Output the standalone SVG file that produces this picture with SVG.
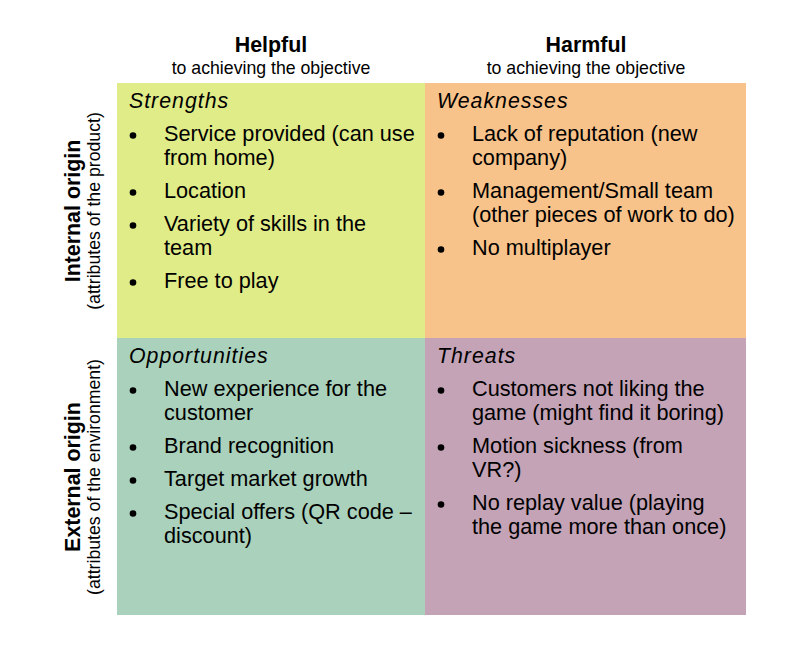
<svg xmlns="http://www.w3.org/2000/svg" width="797" height="659" viewBox="0 0 797 659">
<style>
text{font-family:"Liberation Sans",Arial,sans-serif;fill:#000}
.hd{font-size:21.4px;font-weight:bold;text-anchor:middle}
.sub{font-size:17.7px;text-anchor:middle}
.ttl{font-size:21.3px;font-style:italic;letter-spacing:1px}
.b{font-size:21.7px}
</style>
<rect width="797" height="659" fill="#fff"/>
<g id="header-helpful">
<text class="hd" x="271" y="52">Helpful</text>
<text class="sub" x="271" y="74">to achieving the objective</text>
</g>
<g id="header-harmful">
<text class="hd" x="586" y="52">Harmful</text>
<text class="sub" x="586" y="74">to achieving the objective</text>
</g>
<g id="label-internal" transform="translate(80,211) rotate(-90)">
<text class="hd" x="0" y="0">Internal origin</text>
<text class="sub" x="0" y="20">(attributes of the product)</text>
</g>
<g id="label-external" transform="translate(80,477) rotate(-90)">
<text class="hd" x="0" y="0">External origin</text>
<text class="sub" x="0" y="20">(attributes of the environment)</text>
</g>
<g id="strengths">
<rect x="117" y="83" width="308" height="255" fill="#e0ec88"/>
<text class="ttl" x="129" y="108">Strengths</text>
<circle cx="133" cy="135.5" r="3.3"/>
<text class="b" x="164" y="141">Service provided (can use</text>
<text class="b" x="164" y="165">from home)</text>
<circle cx="133" cy="192.5" r="3.3"/>
<text class="b" x="164" y="198">Location</text>
<circle cx="133" cy="225.5" r="3.3"/>
<text class="b" x="164" y="231">Variety of skills in the</text>
<text class="b" x="164" y="255">team</text>
<circle cx="133" cy="282.5" r="3.3"/>
<text class="b" x="164" y="288">Free to play</text>
</g>
<g id="weaknesses">
<rect x="425" y="83" width="321" height="255" fill="#f8c38a"/>
<text class="ttl" x="437" y="108">Weaknesses</text>
<circle cx="441" cy="135.5" r="3.3"/>
<text class="b" x="472" y="141">Lack of reputation (new</text>
<text class="b" x="472" y="165">company)</text>
<circle cx="441" cy="192.5" r="3.3"/>
<text class="b" x="472" y="198">Management/Small team</text>
<text class="b" x="472" y="222">(other pieces of work to do)</text>
<circle cx="441" cy="249.5" r="3.3"/>
<text class="b" x="472" y="255">No multiplayer</text>
</g>
<g id="opportunities">
<rect x="117" y="338" width="308" height="277" fill="#aad1bb"/>
<text class="ttl" x="129" y="363">Opportunities</text>
<circle cx="133" cy="390.5" r="3.3"/>
<text class="b" x="164" y="396">New experience for the</text>
<text class="b" x="164" y="420">customer</text>
<circle cx="133" cy="447.5" r="3.3"/>
<text class="b" x="164" y="453">Brand recognition</text>
<circle cx="133" cy="480.5" r="3.3"/>
<text class="b" x="164" y="486">Target market growth</text>
<circle cx="133" cy="513.5" r="3.3"/>
<text class="b" x="164" y="519">Special offers (QR code –</text>
<text class="b" x="164" y="543">discount)</text>
</g>
<g id="threats">
<rect x="425" y="338" width="321" height="277" fill="#c4a3b6"/>
<text class="ttl" x="437" y="363">Threats</text>
<circle cx="441" cy="390.5" r="3.3"/>
<text class="b" x="472" y="396">Customers not liking the</text>
<text class="b" x="472" y="420">game (might find it boring)</text>
<circle cx="441" cy="447.5" r="3.3"/>
<text class="b" x="472" y="453">Motion sickness (from</text>
<text class="b" x="472" y="477">VR?)</text>
<circle cx="441" cy="504.5" r="3.3"/>
<text class="b" x="472" y="510">No replay value (playing</text>
<text class="b" x="472" y="534">the game more than once)</text>
</g>
<g id="connectors"></g>
</svg>
